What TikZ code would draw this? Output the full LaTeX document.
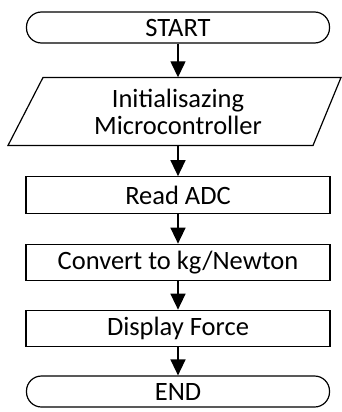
\documentclass[tikz,border=0pt]{standalone}
\usepackage{fontspec}
\setmainfont{Carlito}
\usetikzlibrary{arrows.meta}
\begin{document}
\begin{tikzpicture}[x=1pt,y=-1pt,
  every node/.style={font=\fontsize{26.5}{27}\selectfont, inner sep=0pt},
  term/.style={draw, line width=1.2pt, rounded corners=15pt, minimum width=303pt, minimum height=31pt},
  proc/.style={draw, line width=1.2pt, minimum width=304pt, minimum height=36.5pt},
  flow/.style={line width=1.4pt, -{Triangle[width=15pt,length=16pt]}}]
\useasboundingbox (0,0) rectangle (342,412);
\node[term] (start) at (178,27.5) {START};
\node[minimum width=270pt, minimum height=68pt, align=center] (init) at (178,111.5) {Initialisazing\\Microcontroller};
\draw[line width=1.2pt] (43,77.5) -- (341,77.5) -- (313,145.5) -- (8,145.5) -- cycle;
\node[proc] (read) at (178,195) {Read ADC};
\node[proc] (conv) at (178,262.5) {Convert to kg/Newton};
\node[proc] (disp) at (178,328.5) {Display Force};
\node[term] (end) at (178,391.5) {END};
\draw[flow] (start) -- (init);
\draw[flow] (init) -- (read);
\draw[flow] (read) -- (conv);
\draw[flow] (conv) -- (disp);
\draw[flow] (disp) -- (end);
\end{tikzpicture}
\end{document}
